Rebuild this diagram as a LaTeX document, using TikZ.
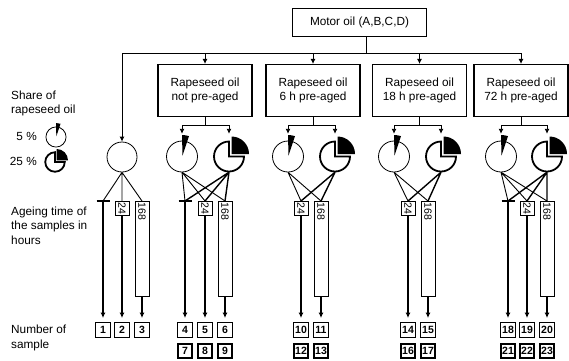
\documentclass[tikz,border=0pt]{standalone}
\usepackage{fontspec}
\setmainfont{Liberation Sans}
\usetikzlibrary{arrows.meta}
\begin{document}
\begin{tikzpicture}[x=1pt,y=-1pt,
  every node/.style={font=\fontsize{11.8}{14}\selectfont},
  topbox/.style={draw,line width=1.1pt,minimum width=94pt,minimum height=52pt,align=center,inner sep=2pt},
  motorbox/.style={draw,line width=1.1pt,minimum width=134pt,minimum height=28pt,inner sep=2pt},
  ln/.style={line width=0.9pt},
  lnthin/.style={line width=0.9pt},
  lnthick/.style={line width=1.4pt},
  arr/.style={line width=0.9pt,-{Latex[length=5pt,width=5pt]}},
  arrv/.style={line width=1.2pt,-{Latex[length=5.5pt,width=5pt]},shorten >=4pt},
  tickbar/.style={line width=1.6pt},
  plaincirc/.style={draw,circle,minimum size=30pt,inner sep=0pt,line width=0.8pt},
  pienode/.style={circle,minimum size=31pt,inner sep=0pt},
  hbox/.style={draw,line width=0.7pt,rotate=-90,anchor=west,font=\fontsize{10.5}{12}\selectfont,inner xsep=1.2pt,inner ysep=0pt,minimum height=14pt},
  shortbox/.style={hbox,minimum width=14pt},
  longbox/.style={hbox,text width=92.6pt,align=left},
  numbox/.style={draw,line width=1.3pt,minimum size=14.5pt,inner sep=0pt,font=\fontsize{10.5}{12}\selectfont\bfseries},
  numboxb/.style={numbox,line width=2pt,minimum size=14pt},
  lbl/.style={anchor=north west,align=left,inner sep=0pt},
  pie5/.pic={
    \draw[line width=0.8pt] (0,0) circle[radius=15.5];
    \fill (0.5,-1) -- (-90:21.5) arc[start angle=-90,end angle=-71,radius=21.5] -- cycle;
  },
  pie25/.pic={
    \fill[shift={(2.5,-2.5)}] (0,0) -- (-90:17.5) arc[start angle=-90,end angle=0,radius=17.5] -- cycle;
    \draw[line width=1.8pt,line join=miter] (0,0) -- (0:15) arc[start angle=0,end angle=270,radius=15] -- cycle;
  }
]
\useasboundingbox (0,0) rectangle (569,360);

% legend texts
\node[lbl] (share) at (11,90.5) {Share of\\rapeseed oil};
\node[anchor=east,inner sep=0pt] (l5) at (37,136) {5 \%};
\node[anchor=east,inner sep=0pt] (l25) at (37,161) {25 \%};
\pic[scale=0.65] at (56,137) {pie5};
\pic[scale=0.65] at (55,162) {pie25};
\node[lbl,font=\fontsize{11.8}{14.5}\selectfont] (age) at (11,206.5) {Ageing time of\\the samples in\\hours};
\node[lbl,font=\fontsize{11.8}{15}\selectfont] (num) at (11,325) {Number of\\sample};

% top boxes
\node[motorbox] (motor) at (359.5,22.5) {Motor oil (A,B,C,D)};
\node[topbox] (b1) at (205,90.5) {Rapeseed oil\\not pre-aged};
\node[topbox] (b2) at (313,90.5) {Rapeseed oil\\6 h pre-aged};
\node[topbox] (b3) at (419.5,90.5) {Rapeseed oil\\18 h pre-aged};
\node[topbox] (b4) at (521,90.5) {Rapeseed oil\\72 h pre-aged};

\coordinate (jM) at (366,53);
\coordinate (jL) at (122,53);
\coordinate (jR) at (521,53);
\coordinate (br) at (0,125);

% circles and pies
\node[plaincirc] (c0) at (122,157) {};
\node[pienode] (p1a) at (182,156.5) {};
\node[pienode] (p1b) at (229,156.5) {};
\node[pienode] (p2a) at (288,156.5) {};
\node[pienode] (p2b) at (335,156.5) {};
\node[pienode] (p3a) at (394,156.5) {};
\node[pienode] (p3b) at (441,156.5) {};
\node[pienode] (p4a) at (501,156.5) {};
\node[pienode] (p4b) at (547,156.5) {};
\foreach \p in {p1a,p2a,p3a,p4a} {\pic at (\p) {pie5};}
\foreach \p in {p1b,p2b,p3b,p4b} {\pic at (\p) {pie25};}

% top connectors
\draw[ln] (motor.south -| jM) -- (jM);
\draw[ln] (jL) -- (jR);
\draw[arr] (jL) -- (c0.north);
\foreach \b in {b1,b2,b3,b4} {\draw[arr] (\b.north |- jL) -- (\b.north);}
\foreach \b/\pa/\pb in {b1/p1a/p1b,b2/p2a/p2b,b3/p3a/p3b,b4/p4a/p4b} {
  \draw[ln] (\b.south) -- (\b.south |- br);
  \draw[ln] (\pa |- br) -- (\pb |- br);
  \draw[arr] (\pa |- br) -- ([yshift=7pt]\pa.north);
  \draw[arr] (\pb |- br) -- ([yshift=7pt]\pb.north);
}

% ticks (0 h)
\coordinate (t0) at (103,201);
\coordinate (t1) at (185,201);
\coordinate (t4) at (508,201);
\foreach \t in {t0,t1,t4} {\draw[tickbar] ([xshift=-6.5pt]\t) -- ([xshift=6.5pt]\t);}

% ageing boxes
\node[shortbox] (s0) at (122,201) {24};
\node[longbox] (l0) at (142,201) {168};
\node[shortbox] (s1) at (205,201) {24};
\node[longbox] (l1) at (225,201) {168};
\node[shortbox] (s2) at (301,201) {24};
\node[longbox] (l2) at (321,201) {168};
\node[shortbox] (s3) at (408,201) {24};
\node[longbox] (l3) at (428,201) {168};
\node[shortbox] (s4) at (527,201) {24};
\node[longbox] (l4) at (547,201) {168};

% fan lines
\draw[lnthin] (c0.south) -- (t0) (c0.south) -- (s0.west) (c0.south) -- (l0.west);
\draw[lnthin] (p1a.south) -- (t1) (p1a.south) -- (s1.west) (p1a.south) -- (l1.west);
\draw[lnthick] (p1b.south) -- (t1) (p1b.south) -- (s1.west) (p1b.south) -- (l1.west);
\draw[lnthin] (p2a.south) -- (s2.west) (p2a.south) -- (l2.west);
\draw[lnthick] (p2b.south) -- (s2.west) (p2b.south) -- (l2.west);
\draw[lnthin] (p3a.south) -- (s3.west) (p3a.south) -- (l3.west);
\draw[lnthick] (p3b.south) -- (s3.west) (p3b.south) -- (l3.west);
\draw[lnthin] (p4a.south) -- (t4) (p4a.south) -- (s4.west) (p4a.south) -- (l4.west);
\draw[lnthick] (p4b.south) -- (t4) (p4b.south) -- (s4.west) (p4b.south) -- (l4.west);

% sample numbers
\node[numbox] (n1) at (103,330) {1};
\node[numbox] (n2) at (122,330) {2};
\node[numbox] (n3) at (142,330) {3};
\node[numbox] (n4) at (185,330) {4};
\node[numbox] (n5) at (205,330) {5};
\node[numbox] (n6) at (225,330) {6};
\node[numboxb] (n7) at (185,350.5) {7};
\node[numboxb] (n8) at (205,350.5) {8};
\node[numboxb] (n9) at (225,350.5) {9};
\node[numbox] (n10) at (301,330) {10};
\node[numbox] (n11) at (321,330) {11};
\node[numboxb] (n12) at (301,350.5) {12};
\node[numboxb] (n13) at (321,350.5) {13};
\node[numbox] (n14) at (408,330) {14};
\node[numbox] (n15) at (428,330) {15};
\node[numboxb] (n16) at (408,350.5) {16};
\node[numboxb] (n17) at (428,350.5) {17};
\node[numbox] (n18) at (508,330) {18};
\node[numbox] (n19) at (527,330) {19};
\node[numbox] (n20) at (547,330) {20};
\node[numboxb] (n21) at (508,350.5) {21};
\node[numboxb] (n22) at (527,350.5) {22};
\node[numboxb] (n23) at (547,350.5) {23};

% vertical arrows
\draw[arrv] (t0) -- (n1.north);
\draw[arrv] (s0.east) -- (n2.north);
\draw[arrv] (l0.east) -- (n3.north);
\draw[arrv] (t1) -- (n4.north);
\draw[arrv] (s1.east) -- (n5.north);
\draw[arrv] (l1.east) -- (n6.north);
\draw[arrv] (s2.east) -- (n10.north);
\draw[arrv] (l2.east) -- (n11.north);
\draw[arrv] (s3.east) -- (n14.north);
\draw[arrv] (l3.east) -- (n15.north);
\draw[arrv] (t4) -- (n18.north);
\draw[arrv] (s4.east) -- (n19.north);
\draw[arrv] (l4.east) -- (n20.north);
\end{tikzpicture}
\end{document}
